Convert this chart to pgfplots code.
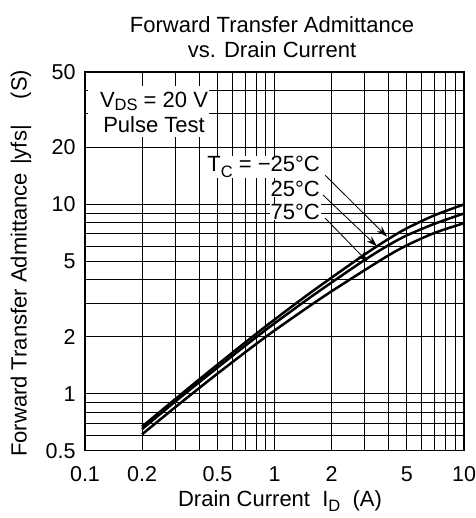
\documentclass[border=0pt]{standalone}
\usepackage{pgfplots}
\pgfplotsset{compat=1.18}
\usepackage{fontspec}
\setmainfont{Liberation Sans}
\usetikzlibrary{arrows.meta}
\newcommand{\sub}[1]{\raisebox{-0.45ex}{\fontsize{16.5}{16.5}\selectfont #1}}
\newcommand{\subb}[1]{\raisebox{-0.3ex}{\fontsize{16.5}{16.5}\selectfont #1}}
\begin{document}
\fontsize{22}{25}\selectfont
\begin{tikzpicture}[x=1pt,y=1pt]
\begin{axis}[
  at={(85pt,67.3pt)}, anchor=south west,
  width=379pt, height=378.7pt, scale only axis,
  xmode=log, ymode=log,
  xmin=0.1, xmax=10, ymin=0.5, ymax=50,
  xtick={0.1,0.2,0.3,0.4,0.5,0.6,0.7,0.8,0.9,1,2,3,4,5,6,7,8,9,10},
  xticklabels={0.1,0.2,,,0.5,,,,,1,2,,,5,,,,,10},
  ytick={0.5,0.6,0.7,0.8,0.9,1,2,3,4,5,6,7,8,9,10,20,30,40,50},
  yticklabels={0.5,,,,,1,2,,,5,,,,,10,20,,,50},
  major tick length=0pt,
  xmajorgrids, ymajorgrids,
  major grid style={black, line width=1pt},
  axis line style={black, line width=1.4pt},
  tick label style={font=\fontsize{21.5}{25}\selectfont},
  xticklabel style={yshift=-8pt},
  yticklabel style={xshift=-2pt},
  clip=true,
]
% Tc = -25 C
\addplot[black, line width=2.5pt, smooth] coordinates {
(0.2,0.67)(0.3,0.938)(0.4,1.188)(0.5,1.423)(0.75,1.968)(1,2.462)(1.5,3.337)(2,4.10)(3,5.45)(4,6.57)(5,7.48)(7,8.76)(10,9.99)};
% Tc = 25 C
\addplot[black, line width=2.5pt, smooth] coordinates {
(0.2,0.65)(0.3,0.910)(0.4,1.148)(0.5,1.372)(0.75,1.890)(1,2.351)(1.5,3.160)(2,3.865)(3,5.095)(4,6.09)(5,6.86)(7,7.90)(10,8.95)};
% Tc = 75 C
\addplot[black, line width=2.5pt, smooth] coordinates {
(0.2,0.61)(0.3,0.850)(0.4,1.070)(0.5,1.276)(0.75,1.743)(1,2.156)(1.5,2.863)(2,3.473)(3,4.50)(4,5.38)(5,6.08)(7,7.07)(10,7.95)};
\draw[line width=0.8pt, -{Stealth[length=11pt,width=7pt]}] (axis cs:1.848,14.27) -- (axis cs:3.925,6.75);
\draw[line width=0.8pt, -{Stealth[length=11pt,width=7pt]}] (axis cs:1.803,11.2) -- (axis cs:3.475,6.0);
\draw[line width=0.8pt, -{Stealth[length=11pt,width=7pt]}] (axis cs:1.848,8.47) -- (axis cs:3.113,4.95);
\end{axis}
% annotations (1pt = 1px of reference, y measured from bottom)
\node[fill=white, inner xsep=1pt, inner ysep=0.5pt, anchor=east] at (321,351) {T\sub{C} = −25°C};
\node[fill=white, inner xsep=1pt, inner ysep=0.5pt, anchor=east] at (321,329) {25°C};
\node[fill=white, inner xsep=1pt, inner ysep=0.5pt, anchor=east] at (321,306) {75°C};
\node[fill=white, align=center, inner sep=0pt, minimum width=121pt, minimum height=51pt,
      font=\fontsize{22}{25}\selectfont] at (148,406) {\hspace*{12pt}V\subb{DS} = 20 V\\\hspace*{12pt}Pulse Test};
% title
\node[align=center, font=\fontsize{22}{25}\selectfont] at (272,481) {Forward Transfer Admittance\\vs. Drain Current};
% x label
\node at (280,17) {Drain Current \ I\sub{D} \ (A)};
% y label
\node[rotate=90, anchor=west, inner sep=0pt] at (21,61) {Forward Transfer Admittance\hspace{8pt}|yfs|\hspace{26pt}(S)};
\pgfresetboundingbox
\path (0,0) rectangle (475,518);
\end{tikzpicture}
\end{document}
